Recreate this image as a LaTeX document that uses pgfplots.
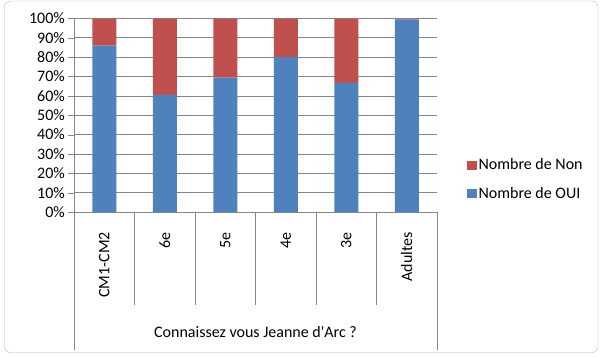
\documentclass[border=0pt]{standalone}
\usepackage{pgfplots}
\pgfplotsset{compat=1.18}
\usepackage{fontspec}
\setmainfont{Carlito}[Ligatures=TeXOff]
\definecolor{oui}{HTML}{4F81BD}
\definecolor{non}{HTML}{C0504D}
\definecolor{gridc}{HTML}{868686}
\begin{document}
\begin{tikzpicture}[x=1pt,y=1pt]
\path[use as bounding box] (0,0) rectangle (610,357);
\fill[white] (0,0) rectangle (610,357);
\draw[gray!55, rounded corners=6pt] (4.5,4.5) rectangle (598,356);
\begin{axis}[
  at={(74pt,145pt)}, anchor=south west,
  scale only axis, width=363pt, height=193.5pt,
  clip=false,
  font=\fontsize{16}{19}\selectfont,
  /pgf/number format/assume math mode=true,
  xmin=0, xmax=6, ymin=0, ymax=100,
  axis x line*=bottom, axis y line*=left,
  axis line style={gridc, -},
  ybar stacked, bar width=24pt,
  ytick={0,10,...,100},
  yticklabel={\pgfmathprintnumber{\tick}\%},
  ymajorgrids, grid style={gridc, line width=0.8pt},
  ytick style={gridc}, tick align=outside, major tick length=6pt,
  xtick={0.5,1.5,2.5,3.5,4.5,5.5},
  xticklabels={CM1-CM2,6e,5e,4e,3e,Adultes},
  xtick style={draw=none},
  xticklabel style={rotate=90, anchor=east, inner sep=0pt},
  xticklabel shift=14pt,
  yticklabel style={inner sep=0pt, xshift=-3pt},
  legend style={at={(1.074,0.168)}, anchor=west, draw=none, fill=none,
    font=\fontsize{16}{19}\selectfont, row sep=12pt,
    cells={anchor=west}},
  reverse legend,
  legend image code/.code={\fill (0,-4.5pt) rectangle (9.5pt,4.5pt);},
]
\addplot[fill=oui, draw=none] coordinates {(0.5,86) (1.5,60.5) (2.5,69.5) (3.5,80) (4.5,66.7) (5.5,99.6)};
\addlegendentry{Nombre de OUI}
\addplot[fill=non, draw=none] coordinates {(0.5,14) (1.5,39.5) (2.5,30.5) (3.5,20) (4.5,33.3) (5.5,0.4)};
\addlegendentry{Nombre de Non}
\draw[gridc] (rel axis cs:0,0) -- ++(0,-138pt);
\draw[gridc] (rel axis cs:1,0) -- ++(0,-138pt);
\draw[gridc] (axis cs:1,0) -- ++(0,-93pt);
\draw[gridc] (axis cs:2,0) -- ++(0,-93pt);
\draw[gridc] (axis cs:3,0) -- ++(0,-93pt);
\draw[gridc] (axis cs:4,0) -- ++(0,-93pt);
\draw[gridc] (axis cs:5,0) -- ++(0,-93pt);
\node[font=\fontsize{16}{19}\selectfont] at ([yshift=-120pt]rel axis cs:0.5,0) {Connaissez vous Jeanne d'Arc ?};
\end{axis}
\end{tikzpicture}
\end{document}
